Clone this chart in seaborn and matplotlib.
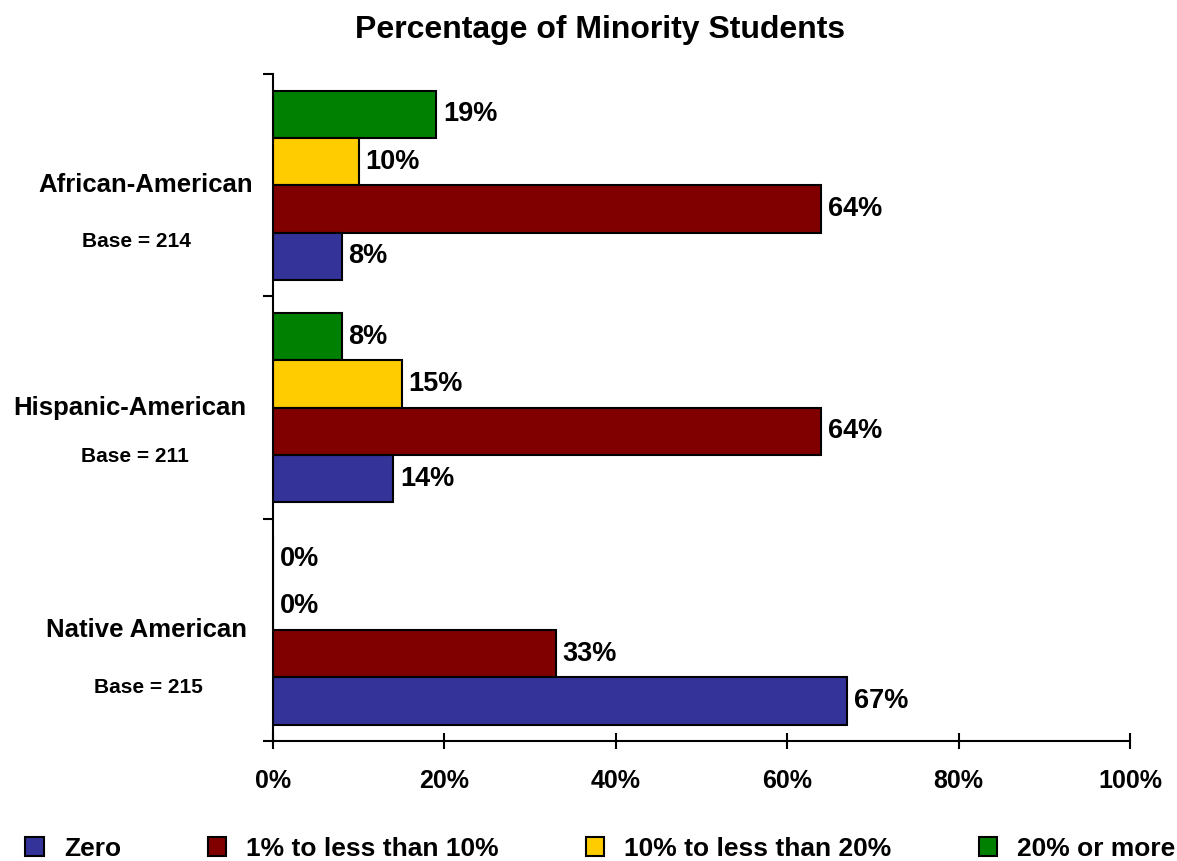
import matplotlib
matplotlib.use('Agg')
import matplotlib.pyplot as plt
import seaborn as sns
import pandas as pd
from matplotlib.patches import Patch
from matplotlib.ticker import FuncFormatter, FixedLocator
import matplotlib.transforms as mtransforms

groups = ['African-American', 'Hispanic-American', 'Native American']
bases = ['Base = 214', 'Base = 211', 'Base = 215']
series = ['Zero', '1% to less than 10%', '10% to less than 20%', '20% or more']
zero = [8, 14, 67]
one_to_ten = [64, 64, 33]
ten_to_twenty = [10, 15, 0]
twenty_plus = [19, 8, 0]
colors = ['#333399', '#800000', '#FFCC00', '#008000']
xticks = [0, 20, 40, 60, 80, 100]

sns.set_theme(style='white')
plt.rcParams['font.family'] = ['Liberation Sans', 'DejaVu Sans']
plt.rcParams['font.weight'] = 'bold'
plt.rcParams['text.color'] = 'black'
plt.rcParams['axes.labelcolor'] = 'black'
plt.rcParams['xtick.color'] = 'black'
plt.rcParams['ytick.color'] = 'black'

rows = []
for s, vals in zip(series, [zero, one_to_ten, ten_to_twenty, twenty_plus]):
    for g, v in zip(groups, vals):
        rows.append({'group': g, 'series': s, 'value': v})
df = pd.DataFrame(rows)

fig = plt.figure(figsize=(11.77, 8.61), dpi=100)
ax = fig.add_axes([0.232, 0.139, 0.728, 0.775])
palette = dict(zip(series, colors))
sns.barplot(data=df, x='value', y='group', hue='series', order=groups,
            hue_order=series[::-1], palette=palette, orient='h', width=0.85,
            edgecolor='black', linewidth=1.5, saturation=1, ax=ax,
            legend=False, errorbar=None)

for cont in ax.containers:
    ax.bar_label(cont, labels=[f'{v:.0f}%' for v in cont.datavalues],
                 padding=5, fontsize=19.5, fontweight='bold', color='black')

ax.set_xlim(0, 100)
ax.set_ylim(2.5, -0.5)
ax.xaxis.set_major_locator(FixedLocator(xticks))
ax.xaxis.set_major_formatter(FuncFormatter(lambda v, p: f'{v:.0f}%'))
ax.set_yticks([-0.5, 0.5, 1.5, 2.5])
ax.set_yticklabels([])
ax.set_xlabel('')
ax.set_ylabel('')
for sp in ['top', 'right']:
    ax.spines[sp].set_visible(False)
for sp in ['left', 'bottom']:
    ax.spines[sp].set_color('black')
    ax.spines[sp].set_linewidth(1.5)
ax.tick_params(axis='x', direction='inout', length=12, width=1.5, colors='black',
               labelsize=18, pad=14)
ax.tick_params(axis='y', direction='out', length=7, width=1.5, colors='black')
ax.tick_params(left=True, bottom=True)
for lab in ax.get_xticklabels():
    lab.set_fontweight('bold')

trans = mtransforms.blended_transform_factory(ax.transAxes, ax.transData)
base_x = [-0.160, -0.161, -0.146]
base_dy = [0.255, 0.22, 0.26]
cat_x = [-0.023, -0.031, -0.031]
for i, (g, b) in enumerate(zip(groups, bases)):
    ax.text(cat_x[i], i, g, transform=trans, ha='right', va='center',
            fontsize=18.5, fontweight='bold', color='black')
    ax.text(base_x[i], i + base_dy[i], b, transform=trans, ha='center', va='center',
            fontsize=15, fontweight='bold', color='black')

fig.text(0.51, 0.965, 'Percentage of Minority Students', ha='center', va='center',
         fontsize=23, fontweight='bold', color='black')

handles = [Patch(facecolor=c, edgecolor='black', linewidth=1.5) for c in colors]
fig.legend(handles, series, loc='center', bbox_to_anchor=(0.51, 0.014), ncol=4,
           frameon=False, handlelength=0.7, handleheight=0.7,
           handletextpad=0.75, columnspacing=3.3, borderpad=0,
           prop={'weight': 'bold', 'size': 19})

fig.savefig('out.png', dpi=100)
